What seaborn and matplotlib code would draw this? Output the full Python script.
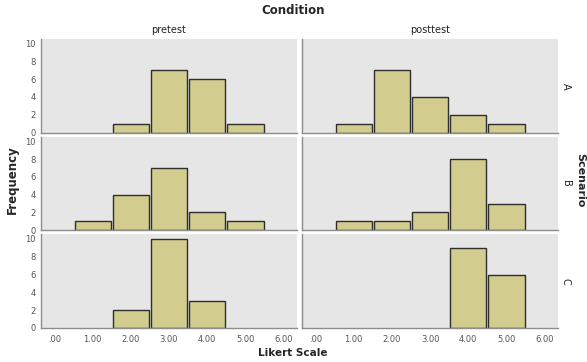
import numpy as np
import pandas as pd
import matplotlib
matplotlib.use("Agg")
import matplotlib.pyplot as plt
import seaborn as sns

# counts per likert score (1..5) for each scenario / condition
scores = [1, 2, 3, 4, 5]
scenarios = ["A", "B", "C"]
conditions = ["pretest", "posttest"]

a_pre = [0, 1, 7, 6, 1]
a_post = [1, 7, 4, 2, 1]
b_pre = [1, 4, 7, 2, 1]
b_post = [1, 1, 2, 8, 3]
c_pre = [0, 2, 10, 3, 0]
c_post = [0, 0, 0, 9, 6]

counts = {
    ("A", "pretest"): a_pre, ("A", "posttest"): a_post,
    ("B", "pretest"): b_pre, ("B", "posttest"): b_post,
    ("C", "pretest"): c_pre, ("C", "posttest"): c_post,
}

rows = []
for (sc, cond), vals in counts.items():
    for s, n in zip(scores, vals):
        if n > 0:
            rows.append({"Scenario": sc, "Condition": cond, "score": s, "n": n})
df = pd.DataFrame(rows)

sns.set_style("white")
plt.rcParams["font.family"] = ["DejaVu Sans"]

g = sns.FacetGrid(df, row="Scenario", col="Condition", row_order=scenarios,
                  col_order=conditions, sharex=True, sharey=True,
                  height=1.2, aspect=2.0, despine=False)
g.map_dataframe(sns.histplot, x="score", weights="n", discrete=True,
                shrink=0.95, color="#d2cc8f", edgecolor="#2e2e2e",
                linewidth=1.0, alpha=1)

fig = g.figure
fig.set_size_inches(5.87, 3.62)
fig.subplots_adjust(left=0.070, right=0.9506, top=0.892, bottom=0.094,
                    wspace=0.02, hspace=0.045)

xt = [0, 1, 2, 3, 4, 5, 6]
xtl = [".00", "1.00", "2.00", "3.00", "4.00", "5.00", "6.00"]
for i, sc in enumerate(scenarios):
    for j, cond in enumerate(conditions):
        ax = g.axes[i, j]
        ax.set_facecolor("#e6e6e6")
        ax.set_xlim(-0.35, 6.35)
        ax.set_ylim(0, 10.5)
        ax.set_title("")
        ax.set_xlabel("")
        ax.set_ylabel("")
        for side in ["top", "right"]:
            ax.spines[side].set_visible(False)
        for side in ["left", "bottom"]:
            ax.spines[side].set_color("#8c8c8c")
            ax.spines[side].set_linewidth(1.0)
        ax.set_yticks([0, 2, 4, 6, 8, 10])
        ax.set_xticks(xt)
        ax.set_xticklabels(xtl)
        ax.tick_params(axis="both", labelsize=6, colors="#555555")
        ax.tick_params(axis="x", length=0, pad=5)
        ax.tick_params(axis="y", length=2, pad=2)
        if j == 1:
            ax.tick_params(axis="y", left=False, labelleft=False)
        if i < 2:
            ax.tick_params(axis="x", labelbottom=False)
        if i == 0:
            ax.text(0.5, 1.04, cond, transform=ax.transAxes, ha="center",
                    va="bottom", fontsize=7, color="#222222")
        if j == 1:
            ax.text(1.03, 0.5, sc, transform=ax.transAxes, ha="center",
                    va="center", rotation=270, fontsize=7, color="#222222")

fig.text(0.499, 0.972, "Condition", ha="center", va="center",
         fontsize=8.5, fontweight="bold")
fig.text(0.021, 0.503, "Frequency", ha="center", va="center",
         rotation=90, fontsize=8.5, fontweight="bold")
fig.text(0.499, 0.026, "Likert Scale", ha="center", va="center",
         fontsize=7.5, fontweight="bold")
fig.text(0.989, 0.503, "Scenario", ha="center", va="center",
         rotation=270, fontsize=8, fontweight="bold")

fig.savefig("out.png", dpi=100)
